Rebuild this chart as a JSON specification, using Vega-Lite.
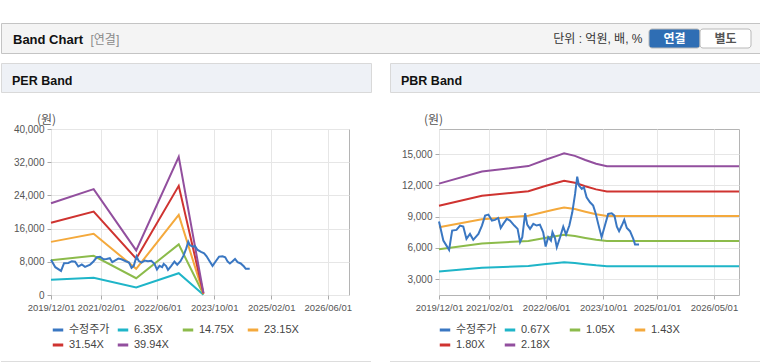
{
  "$schema": "https://vega.github.io/schema/vega-lite/v6.json",
  "background": "#ffffff",
  "padding": {"left": 0, "top": 22, "right": 0, "bottom": 0},
  "spacing": 8,
  "resolve": {"scale": {"x": "independent", "y": "independent", "color": "independent", "fill": "independent"}, "axis": {"x": "independent", "y": "independent"}, "legend": {"color": "independent", "fill": "independent"}},
  "config": {
    "font": "Liberation Sans, Noto Sans CJK KR",
    "view": {"stroke": null},
    "axis": {"labelFont": "Liberation Sans, Noto Sans CJK KR", "labelFontSize": 10, "labelColor": "#555555"},
    "legend": {"labelFont": "Liberation Sans, Noto Sans CJK KR"}
  },
  "datasets": {
    "buttons": [
      {"button": "연결", "selected": "yes"},
      {"button": "별도", "selected": "no"}
    ],
    "price": [
      {"date": "2019-12-01", "series": "수정주가", "value": 8520},
      {"date": "2020-01-07", "series": "수정주가", "value": 6700},
      {"date": "2020-02-25", "series": "수정주가", "value": 5810},
      {"date": "2020-03-22", "series": "수정주가", "value": 7660},
      {"date": "2020-04-28", "series": "수정주가", "value": 7720},
      {"date": "2020-05-28", "series": "수정주가", "value": 8140},
      {"date": "2020-06-25", "series": "수정주가", "value": 8040},
      {"date": "2020-07-22", "series": "수정주가", "value": 6860},
      {"date": "2020-08-21", "series": "수정주가", "value": 7340},
      {"date": "2020-09-18", "series": "수정주가", "value": 6770},
      {"date": "2020-11-01", "series": "수정주가", "value": 7340},
      {"date": "2020-12-01", "series": "수정주가", "value": 8140},
      {"date": "2020-12-28", "series": "수정주가", "value": 9090},
      {"date": "2021-01-25", "series": "수정주가", "value": 9190},
      {"date": "2021-02-24", "series": "수정주가", "value": 8620},
      {"date": "2021-03-22", "series": "수정주가", "value": 8680},
      {"date": "2021-04-19", "series": "수정주가", "value": 8870},
      {"date": "2021-05-10", "series": "수정주가", "value": 7910},
      {"date": "2021-06-01", "series": "수정주가", "value": 8300},
      {"date": "2021-07-01", "series": "수정주가", "value": 8780},
      {"date": "2021-07-28", "series": "수정주가", "value": 8620},
      {"date": "2021-09-03", "series": "수정주가", "value": 8140},
      {"date": "2021-10-01", "series": "수정주가", "value": 7820},
      {"date": "2021-10-22", "series": "수정주가", "value": 6540},
      {"date": "2021-11-10", "series": "수정주가", "value": 7020},
      {"date": "2021-12-04", "series": "수정주가", "value": 9320},
      {"date": "2021-12-22", "series": "수정주가", "value": 8230},
      {"date": "2022-01-15", "series": "수정주가", "value": 7820},
      {"date": "2022-02-12", "series": "수정주가", "value": 8300},
      {"date": "2022-03-12", "series": "수정주가", "value": 8140},
      {"date": "2022-04-09", "series": "수정주가", "value": 8230},
      {"date": "2022-05-07", "series": "수정주가", "value": 7500},
      {"date": "2022-05-28", "series": "수정주가", "value": 6130},
      {"date": "2022-06-19", "series": "수정주가", "value": 7020},
      {"date": "2022-07-12", "series": "수정주가", "value": 6700},
      {"date": "2022-07-25", "series": "수정주가", "value": 7500},
      {"date": "2022-08-15", "series": "수정주가", "value": 6960},
      {"date": "2022-08-31", "series": "수정주가", "value": 6060},
      {"date": "2022-09-28", "series": "수정주가", "value": 7020},
      {"date": "2022-10-25", "series": "수정주가", "value": 8040},
      {"date": "2022-11-18", "series": "수정주가", "value": 7280},
      {"date": "2022-12-16", "series": "수정주가", "value": 8140},
      {"date": "2023-01-10", "series": "수정주가", "value": 9410},
      {"date": "2023-02-03", "series": "수정주가", "value": 11170},
      {"date": "2023-02-21", "series": "수정주가", "value": 12830},
      {"date": "2023-03-08", "series": "수정주가", "value": 11970},
      {"date": "2023-04-01", "series": "수정주가", "value": 11650},
      {"date": "2023-04-19", "series": "수정주가", "value": 11810},
      {"date": "2023-05-12", "series": "수정주가", "value": 10850},
      {"date": "2023-06-10", "series": "수정주가", "value": 10370},
      {"date": "2023-07-07", "series": "수정주가", "value": 10050},
      {"date": "2023-07-28", "series": "수정주가", "value": 9320},
      {"date": "2023-08-19", "series": "수정주가", "value": 8300},
      {"date": "2023-09-17", "series": "수정주가", "value": 7020},
      {"date": "2023-10-15", "series": "수정주가", "value": 8140},
      {"date": "2023-11-12", "series": "수정주가", "value": 9250},
      {"date": "2023-12-12", "series": "수정주가", "value": 9320},
      {"date": "2024-01-04", "series": "수정주가", "value": 9090},
      {"date": "2024-01-25", "series": "수정주가", "value": 8040},
      {"date": "2024-02-13", "series": "수정주가", "value": 7600},
      {"date": "2024-03-07", "series": "수정주가", "value": 8140},
      {"date": "2024-03-28", "series": "수정주가", "value": 8680},
      {"date": "2024-04-19", "series": "수정주가", "value": 7910},
      {"date": "2024-05-16", "series": "수정주가", "value": 7600},
      {"date": "2024-06-13", "series": "수정주가", "value": 6860},
      {"date": "2024-06-28", "series": "수정주가", "value": 6320},
      {"date": "2024-08-01", "series": "수정주가", "value": 6320}
    ],
    "perBands": [
      {"date": "2019-12-01", "series": "6.35X", "value": 3700},
      {"date": "2020-12-01", "series": "6.35X", "value": 4150},
      {"date": "2021-12-01", "series": "6.35X", "value": 1800},
      {"date": "2022-12-01", "series": "6.35X", "value": 5250},
      {"date": "2023-07-01", "series": "6.35X", "value": 80},
      {"date": "2019-12-01", "series": "14.75X", "value": 8350},
      {"date": "2020-12-01", "series": "14.75X", "value": 9450},
      {"date": "2021-12-01", "series": "14.75X", "value": 4050},
      {"date": "2022-12-01", "series": "14.75X", "value": 12200},
      {"date": "2023-07-01", "series": "14.75X", "value": 180},
      {"date": "2019-12-01", "series": "23.15X", "value": 12800},
      {"date": "2020-12-01", "series": "23.15X", "value": 14750},
      {"date": "2021-12-01", "series": "23.15X", "value": 6300},
      {"date": "2022-12-01", "series": "23.15X", "value": 19300},
      {"date": "2023-07-01", "series": "23.15X", "value": 280},
      {"date": "2019-12-01", "series": "31.54X", "value": 17400},
      {"date": "2020-12-01", "series": "31.54X", "value": 20100},
      {"date": "2021-12-01", "series": "31.54X", "value": 8750},
      {"date": "2022-12-01", "series": "31.54X", "value": 26300},
      {"date": "2023-07-01", "series": "31.54X", "value": 380},
      {"date": "2019-12-01", "series": "39.94X", "value": 22100},
      {"date": "2020-12-01", "series": "39.94X", "value": 25500},
      {"date": "2021-12-01", "series": "39.94X", "value": 10750},
      {"date": "2022-12-01", "series": "39.94X", "value": 33300},
      {"date": "2023-07-01", "series": "39.94X", "value": 480}
    ],
    "pbrBands": [
      {"date": "2019-12-01", "series": "0.67X", "value": 3739},
      {"date": "2020-12-01", "series": "0.67X", "value": 4094},
      {"date": "2022-01-01", "series": "0.67X", "value": 4255},
      {"date": "2022-06-01", "series": "0.67X", "value": 4449},
      {"date": "2022-09-01", "series": "0.67X", "value": 4556},
      {"date": "2022-11-01", "series": "0.67X", "value": 4630},
      {"date": "2023-02-01", "series": "0.67X", "value": 4556},
      {"date": "2023-05-01", "series": "0.67X", "value": 4435},
      {"date": "2023-08-01", "series": "0.67X", "value": 4322},
      {"date": "2023-11-01", "series": "0.67X", "value": 4248},
      {"date": "2026-12-01", "series": "0.67X", "value": 4248},
      {"date": "2019-12-01", "series": "1.05X", "value": 5859},
      {"date": "2020-12-01", "series": "1.05X", "value": 6416},
      {"date": "2022-01-01", "series": "1.05X", "value": 6668},
      {"date": "2022-06-01", "series": "1.05X", "value": 6972},
      {"date": "2022-09-01", "series": "1.05X", "value": 7140},
      {"date": "2022-11-01", "series": "1.05X", "value": 7256},
      {"date": "2023-02-01", "series": "1.05X", "value": 7140},
      {"date": "2023-05-01", "series": "1.05X", "value": 6951},
      {"date": "2023-08-01", "series": "1.05X", "value": 6773},
      {"date": "2023-11-01", "series": "1.05X", "value": 6657},
      {"date": "2026-12-01", "series": "1.05X", "value": 6657},
      {"date": "2019-12-01", "series": "1.43X", "value": 7979},
      {"date": "2020-12-01", "series": "1.43X", "value": 8737},
      {"date": "2022-01-01", "series": "1.43X", "value": 9081},
      {"date": "2022-06-01", "series": "1.43X", "value": 9495},
      {"date": "2022-09-01", "series": "1.43X", "value": 9724},
      {"date": "2022-11-01", "series": "1.43X", "value": 9881},
      {"date": "2023-02-01", "series": "1.43X", "value": 9724},
      {"date": "2023-05-01", "series": "1.43X", "value": 9467},
      {"date": "2023-08-01", "series": "1.43X", "value": 9224},
      {"date": "2023-11-01", "series": "1.43X", "value": 9066},
      {"date": "2026-12-01", "series": "1.43X", "value": 9066},
      {"date": "2019-12-01", "series": "1.80X", "value": 10044},
      {"date": "2020-12-01", "series": "1.80X", "value": 10998},
      {"date": "2022-01-01", "series": "1.80X", "value": 11430},
      {"date": "2022-06-01", "series": "1.80X", "value": 11952},
      {"date": "2022-09-01", "series": "1.80X", "value": 12240},
      {"date": "2022-11-01", "series": "1.80X", "value": 12438},
      {"date": "2023-02-01", "series": "1.80X", "value": 12240},
      {"date": "2023-05-01", "series": "1.80X", "value": 11916},
      {"date": "2023-08-01", "series": "1.80X", "value": 11610},
      {"date": "2023-11-01", "series": "1.80X", "value": 11412},
      {"date": "2026-12-01", "series": "1.80X", "value": 11412},
      {"date": "2019-12-01", "series": "2.18X", "value": 12164},
      {"date": "2020-12-01", "series": "2.18X", "value": 13320},
      {"date": "2022-01-01", "series": "2.18X", "value": 13843},
      {"date": "2022-06-01", "series": "2.18X", "value": 14475},
      {"date": "2022-09-01", "series": "2.18X", "value": 14824},
      {"date": "2022-11-01", "series": "2.18X", "value": 15064},
      {"date": "2023-02-01", "series": "2.18X", "value": 14824},
      {"date": "2023-05-01", "series": "2.18X", "value": 14432},
      {"date": "2023-08-01", "series": "2.18X", "value": 14061},
      {"date": "2023-11-01", "series": "2.18X", "value": 13821},
      {"date": "2026-12-01", "series": "2.18X", "value": 13821}
    ]
  },
  "vconcat": [
    {
      "width": 760,
      "height": 30,
      "view": {"fill": "#f4f4f4", "stroke": "#c4c4c4"},
      "title": {"text": "Band Chart", "anchor": "start", "frame": "group", "offset": 0, "dx": 12, "dy": 34, "baseline": "alphabetic", "fontSize": 13, "fontWeight": "bold", "color": "#111111", "font": "Liberation Sans"},
      "data": {"name": "buttons"},
      "encoding": {
        "x": {"field": "button", "type": "nominal", "sort": null,
          "scale": {"range": [648, 750], "paddingInner": 0, "paddingOuter": 0},
          "axis": {"title": "단위 : 억원, 배, %", "titleX": 641, "titleY": -11, "titleAlign": "right", "titleBaseline": "alphabetic", "titleFontSize": 12, "titleFontWeight": "normal", "titleColor": "#333333", "titleFont": "Liberation Sans, Noto Sans CJK KR", "labels": false, "ticks": false, "domain": false, "grid": false, "minExtent": 0, "maxExtent": 0}},
        "y": {"datum": "btn", "type": "nominal",
          "scale": {"range": [6, 25], "paddingInner": 0, "paddingOuter": 0},
          "axis": {"title": "[연결]", "titleAngle": 0, "titleX": 89, "titleY": 20, "titleAlign": "left", "titleBaseline": "alphabetic", "titleFontSize": 12, "titleFontWeight": "normal", "titleColor": "#8a8a8a", "titleFont": "Liberation Sans, Noto Sans CJK KR", "labels": false, "ticks": false, "domain": false, "grid": false, "minExtent": 0, "maxExtent": 0}}
      },
      "layer": [
        {"mark": {"type": "rect", "cornerRadius": 3, "stroke": "#b8b8b8", "strokeWidth": 1},
         "encoding": {"fill": {"field": "selected", "type": "nominal", "scale": {"domain": ["yes", "no"], "range": ["#2f6eb4", "#ffffff"]}, "legend": null}}},
        {"mark": {"type": "text", "fontSize": 12, "fontWeight": "bold", "font": "Noto Sans CJK KR"},
         "encoding": {"text": {"field": "button"}, "color": {"field": "selected", "type": "nominal", "scale": {"domain": ["yes", "no"], "range": ["#ffffff", "#555555"]}, "legend": null}}}
      ]
    },
    {
      "spacing": 17,
      "resolve": {"scale": {"x": "independent", "y": "independent", "color": "independent"}, "axis": {"x": "independent", "y": "independent"}, "legend": {"color": "independent"}},
      "hconcat": [
        {
          "spacing": 19,
          "vconcat": [
            {
              "width": 370, "height": 29,
              "view": {"fill": "#eef1f6", "stroke": "#d9d9d9"},
              "title": {"text": "PER Band", "anchor": "start", "frame": "group", "offset": 0, "dx": 11, "dy": 34, "baseline": "alphabetic", "fontSize": 12.5, "fontWeight": "bold", "color": "#111111", "font": "Liberation Sans"},
              "data": {"values": []},
              "mark": "point"
            },
            {
              "spacing": 49,
              "vconcat": [
                {
                  "spacing": 0,
                  "hconcat": [
                    {"width": 1, "height": 1, "view": {"fill": "#ffffff"}, "data": {"values": []}, "mark": "point"},
                    {
                      "width": 298, "height": 166,
                      "view": {"fill": "#ffffff", "stroke": "#b4b4b4"},
                      "encoding": {
                        "x": {"field": "date", "type": "temporal",
                          "scale": {"type": "utc", "domain": [{"year": 2019, "month": 12, "date": 1, "utc": true}, {"year": 2026, "month": 12, "date": 1, "utc": true}]},
                          "axis": {"title": null, "format": "%Y/%m/%d", "labelFontSize": 9.5,
                            "values": [{"year": 2019, "month": 12, "date": 1, "utc": true}, {"year": 2021, "month": 2, "date": 1, "utc": true}, {"year": 2022, "month": 6, "date": 1, "utc": true}, {"year": 2023, "month": 10, "date": 1, "utc": true}, {"year": 2025, "month": 2, "date": 1, "utc": true}, {"year": 2026, "month": 6, "date": 1, "utc": true}],
                            "labelOverlap": false, "labelFlush": false, "labelPadding": 3, "tickSize": 4, "tickColor": "#aaaaaa", "domain": false, "grid": true, "gridColor": "#e6e6e6"}},
                        "y": {"field": "value", "type": "quantitative",
                          "scale": {"domain": [0, 40000], "nice": false, "zero": false},
                          "axis": {"values": [0, 8000, 16000, 24000, 32000, 40000], "format": ",d", "labelFlush": false, "labelPadding": 3, "tickSize": 4, "tickColor": "#aaaaaa", "domain": false, "grid": true, "gridColor": "#e6e6e6", "minExtent": 48,
                            "title": "(원)", "titleAngle": 0, "titleX": -5, "titleY": -6, "titleAlign": "center", "titleBaseline": "alphabetic", "titleFontSize": 12, "titleFontWeight": "normal", "titleColor": "#555555", "titleFont": "Noto Sans CJK KR"}},
                        "color": {"field": "series", "type": "nominal",
                          "scale": {"domain": ["수정주가", "6.35X", "14.75X", "23.15X", "31.54X", "39.94X"], "range": ["#3a77c2", "#1fb5c8", "#8cbb4b", "#f4a93c", "#cf3330", "#924f9e"]},
                          "legend": {"orient": "none", "legendX": 50, "legendY": 260, "direction": "horizontal", "columns": 4, "gridAlign": "all", "columnPadding": 1, "rowPadding": 2, "padding": 0, "title": null, "symbolType": "stroke", "symbolStrokeWidth": 3, "symbolSize": 110, "labelFontSize": 11, "labelColor": "#444444", "labelOffset": 4, "labelLimit": 200}}
                      },
                      "layer": [
                        {"data": {"name": "perBands"}, "mark": {"type": "line", "strokeWidth": 2}},
                        {"data": {"name": "price"}, "mark": {"type": "line", "strokeWidth": 2}}
                      ]
                    }
                  ]
                },
                {"width": 370, "height": 1, "view": {"fill": "#dddddd"}, "data": {"values": []}, "mark": "point"}
              ]
            }
          ]
        },
        {
          "spacing": 19,
          "vconcat": [
            {
              "width": 370, "height": 29,
              "view": {"fill": "#eef1f6", "stroke": "#d9d9d9"},
              "title": {"text": "PBR Band", "anchor": "start", "frame": "group", "offset": 0, "dx": 11, "dy": 34, "baseline": "alphabetic", "fontSize": 12.5, "fontWeight": "bold", "color": "#111111", "font": "Liberation Sans"},
              "data": {"values": []},
              "mark": "point"
            },
            {
              "spacing": 49,
              "vconcat": [
                {
                  "spacing": 0,
                  "hconcat": [
                    {"width": 1, "height": 1, "view": {"fill": "#ffffff"}, "data": {"values": []}, "mark": "point"},
                    {
                      "width": 300, "height": 166,
                      "view": {"fill": "#ffffff", "stroke": "#b4b4b4"},
                      "encoding": {
                        "x": {"field": "date", "type": "temporal",
                          "scale": {"type": "utc", "domain": [{"year": 2019, "month": 12, "date": 1, "utc": true}, {"year": 2026, "month": 12, "date": 1, "utc": true}]},
                          "axis": {"title": null, "format": "%Y/%m/%d", "labelFontSize": 9.5,
                            "values": [{"year": 2019, "month": 12, "date": 1, "utc": true}, {"year": 2021, "month": 2, "date": 1, "utc": true}, {"year": 2022, "month": 6, "date": 1, "utc": true}, {"year": 2023, "month": 10, "date": 1, "utc": true}, {"year": 2025, "month": 1, "date": 1, "utc": true}, {"year": 2026, "month": 5, "date": 1, "utc": true}],
                            "labelOverlap": false, "labelFlush": false, "labelPadding": 3, "tickSize": 4, "tickColor": "#aaaaaa", "domain": false, "grid": true, "gridColor": "#e6e6e6"}},
                        "y": {"field": "value", "type": "quantitative",
                          "scale": {"domain": [1480, 17400], "nice": false, "zero": false},
                          "axis": {"values": [3000, 6000, 9000, 12000, 15000], "format": ",d", "labelFlush": false, "labelPadding": 3, "tickSize": 4, "tickColor": "#aaaaaa", "domain": false, "grid": true, "gridColor": "#e6e6e6", "minExtent": 47,
                            "title": "(원)", "titleAngle": 0, "titleX": -6, "titleY": -6, "titleAlign": "center", "titleBaseline": "alphabetic", "titleFontSize": 12, "titleFontWeight": "normal", "titleColor": "#555555", "titleFont": "Noto Sans CJK KR"}},
                        "color": {"field": "series", "type": "nominal",
                          "scale": {"domain": ["수정주가", "0.67X", "1.05X", "1.43X", "1.80X", "2.18X"], "range": ["#3a77c2", "#1fb5c8", "#8cbb4b", "#f4a93c", "#cf3330", "#924f9e"]},
                          "legend": {"orient": "none", "legendX": 48, "legendY": 260, "direction": "horizontal", "columns": 4, "gridAlign": "all", "columnPadding": 1, "rowPadding": 2, "padding": 0, "title": null, "symbolType": "stroke", "symbolStrokeWidth": 3, "symbolSize": 110, "labelFontSize": 11, "labelColor": "#444444", "labelOffset": 4, "labelLimit": 200}}
                      },
                      "layer": [
                        {"data": {"name": "pbrBands"}, "mark": {"type": "line", "strokeWidth": 2}},
                        {"data": {"name": "price"}, "mark": {"type": "line", "strokeWidth": 2}}
                      ]
                    }
                  ]
                },
                {"width": 370, "height": 1, "view": {"fill": "#dddddd"}, "data": {"values": []}, "mark": "point"}
              ]
            }
          ]
        }
      ]
    }
  ]
}
